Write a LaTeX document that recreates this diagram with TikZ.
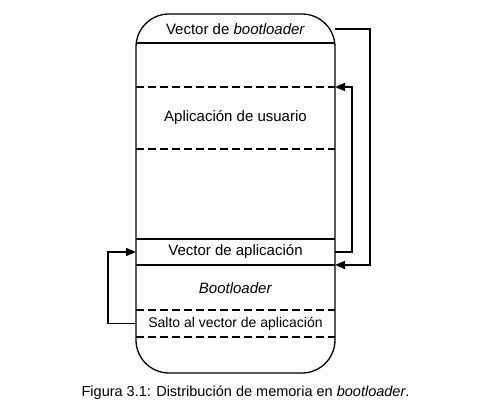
\documentclass[tikz,border=0pt]{standalone}
\usepackage{fontspec}
\setmainfont{Liberation Sans}
\usetikzlibrary{arrows.meta}
\begin{document}
\begin{tikzpicture}[x=1pt,y=-1pt]
  \tikzstyle{every node}+=[inner sep=0pt, outer sep=0pt, font=\fontsize{15}{18}\selectfont]
  \tikzstyle{sep}=[line width=1.3pt]
  \tikzstyle{sepdash}=[line width=1.3pt, dash pattern=on 7.5pt off 4.5pt]
  \tikzstyle{link}=[line width=1.3pt, -{Triangle[length=10pt,width=8pt]}]
  \useasboundingbox (0,0) rectangle (491,411);
  % memory block
  \node[draw, line width=1.3pt, rounded corners=33pt, minimum width=199pt, minimum height=359pt] (mem) at (235.5,193.5) {};
  \foreach \y/\n in {43/a,87/b,149/c,239/d,265/e,310/f,337/g} {
    \coordinate (l\n) at (136,\y);
    \coordinate (r\n) at (335,\y);
  }
  \draw[sep] (la) -- (ra);
  \draw[sepdash] (lb) -- (rb);
  \draw[sepdash] (lc) -- (rc);
  \draw[sep] (ld) -- (rd);
  \draw[sep] (le) -- (re);
  \draw[sepdash] (lf) -- (rf);
  \draw[sepdash] (lg) -- (rg);
  % sections
  \node (vboot) at (235.5,29) {Vector de \textit{bootloader}};
  \node (app) at (235.5,118) {Aplicación de usuario};
  \node (vapp) at (235.5,252) {Vector de aplicación};
  \node (boot) at (235.5,288) {\textit{Bootloader}};
  \node[font=\fontsize{14}{17}\selectfont] (salto) at (235.5,323.5) {Salto al vector de aplicación};
  % jumps
  \draw[link] (vboot -| mem.east) -- ++(35,0) |- (re);
  \draw[link] (vapp -| mem.east) -- ++(17,0) |- (rb);
  \draw[link] (salto -| mem.west) -- ++(-28,0) |- (vapp -| mem.west);
  % caption
  \node[font=\fontsize{14.5}{17}\selectfont] (cap) at (245.5,393) {Figura 3.1: Distribución de memoria en \textit{bootloader}.};
\end{tikzpicture}
\end{document}
